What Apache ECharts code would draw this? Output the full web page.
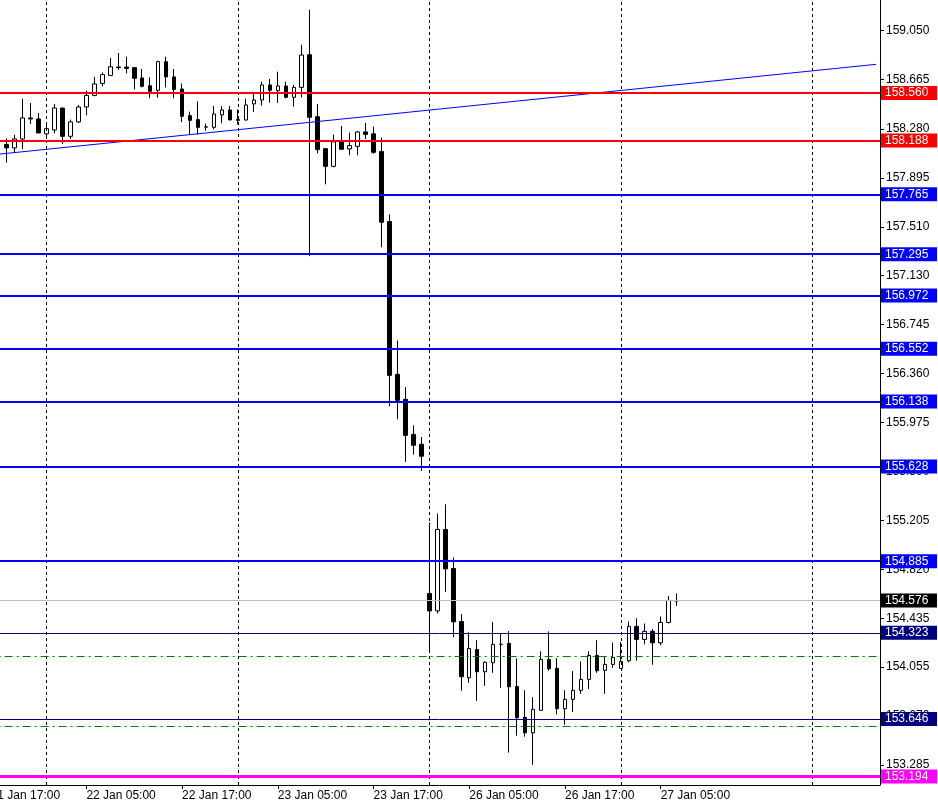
<!DOCTYPE html>
<html>
<head>
<meta charset="utf-8">
<title>H1 chart</title>
<script src="https://cdn.jsdelivr.net/npm/echarts@6/dist/echarts.min.js"></script>
<style>
html, body { margin: 0; padding: 0; background: #fff; }
#chart { width: 938px; height: 807px; }
</style>
</head>
<body>
<div id="chart"></div>
<script>
// time axis: hourly bars, first category is 21 Jan 17:00 (off the left edge)
var days = ['21 Jan', '22 Jan', '23 Jan', '26 Jan', '27 Jan', '28 Jan'];
var firstCandle = '21 Jan 19:00';

// OHLC, one value per hourly bar
var opens = [158.156, 158.130, 158.200, 158.365, 158.357, 158.240, 158.271, 158.443, 158.221, 158.334,
  158.451, 158.542, 158.636, 158.699, 158.765, 158.765, 158.760, 158.679, 158.618, 158.582,
  158.807, 158.687, 158.592, 158.383, 158.352, 158.293, 158.291, 158.389, 158.428, 158.352,
  158.349, 158.475, 158.506, 158.624, 158.579, 158.616, 158.527, 158.605, 158.861, 158.375,
  158.124, 157.985, 158.177, 158.122, 158.142, 158.255, 158.240, 158.101, 157.552, 156.352,
  156.156, 155.881, 155.803, 154.632, 154.495, 155.134, 154.828, 154.412, 153.970, 154.192,
  154.017, 154.088, 154.230, 154.240, 153.902, 153.659, 153.538, 153.714, 154.114, 154.044,
  153.727, 153.800, 153.871, 153.957, 154.145, 154.028, 154.075, 154.043, 154.103, 154.373,
  154.271, 154.334, 154.244, 154.404, 154.574];
var closes = [158.130, 158.200, 158.365, 158.357, 158.247, 158.281, 158.443, 158.221, 158.334, 158.451,
  158.542, 158.632, 158.705, 158.767, 158.760, 158.754, 158.676, 158.613, 158.574, 158.807,
  158.687, 158.589, 158.378, 158.346, 158.291, 158.295, 158.396, 158.428, 158.349, 158.346,
  158.467, 158.506, 158.624, 158.582, 158.616, 158.527, 158.605, 158.859, 158.370, 158.116,
  157.985, 158.177, 158.119, 158.148, 158.255, 158.236, 158.095, 157.546, 156.344, 156.148,
  155.873, 155.795, 155.709, 154.495, 155.134, 154.825, 154.409, 153.978, 154.200, 154.017,
  154.091, 154.232, 154.233, 153.899, 153.656, 153.538, 153.722, 154.114, 154.040, 153.727,
  153.800, 153.871, 153.957, 154.145, 154.025, 154.075, 154.130, 154.098, 154.373, 154.271,
  154.334, 154.244, 154.404, 154.577, 154.576];
var lows = [158.015, 158.095, 158.119, 158.318, 158.247, 158.200, 158.244, 158.161, 158.200, 158.326,
  158.385, 158.535, 158.613, 158.694, 158.742, 158.715, 158.589, 158.605, 158.519, 158.524,
  158.605, 158.519, 158.334, 158.232, 158.232, 158.265, 158.276, 158.323, 158.349, 158.313,
  158.344, 158.412, 158.462, 158.485, 158.483, 158.519, 158.454, 158.527, 157.280, 158.087,
  157.844, 157.978, 158.119, 158.072, 158.072, 158.200, 158.083, 157.350, 156.101, 155.999,
  155.664, 155.722, 155.593, 154.169, 154.475, 154.644, 154.287, 153.868, 153.931, 153.789,
  153.907, 154.009, 153.891, 153.382, 153.515, 153.507, 153.287, 153.714, 154.025, 153.683,
  153.601, 153.701, 153.844, 153.881, 154.009, 153.844, 154.048, 154.043, 154.091, 154.103,
  154.232, 154.072, 154.224, 154.396, 154.534];
var highs = [158.203, 158.232, 158.517, 158.483, 158.404, 158.318, 158.475, 158.443, 158.352, 158.467,
  158.579, 158.689, 158.723, 158.836, 158.875, 158.846, 158.765, 158.749, 158.684, 158.814,
  158.846, 158.749, 158.636, 158.414, 158.495, 158.320, 158.459, 158.459, 158.459, 158.432,
  158.517, 158.569, 158.650, 158.671, 158.728, 158.650, 158.624, 158.940, 159.214, 158.475,
  158.124, 158.234, 158.302, 158.250, 158.263, 158.326, 158.297, 158.211, 157.607, 156.618,
  156.252, 155.952, 155.860, 155.189, 155.259, 155.332, 154.914, 154.469, 154.328, 154.265,
  154.098, 154.407, 154.318, 154.336, 154.122, 153.873, 153.818, 154.177, 154.334, 154.124,
  153.873, 154.022, 154.098, 154.177, 154.265, 154.142, 154.247, 154.250, 154.412, 154.438,
  154.396, 154.352, 154.451, 154.611, 154.632];

// price scale ticks as printed on the right
var yTicks = [153.285, 153.670, 154.055, 154.435, 154.820, 155.205, 155.590, 155.975,
  156.360, 156.745, 157.130, 157.510, 157.895, 158.280, 158.665, 159.050];

// drawn levels
var redLevels = [158.560, 158.188];
var blueLevels = [157.765, 157.295, 156.972, 156.552, 156.138, 155.628, 154.885];
var bidLevel = 154.576;
var navyLevels = [154.323, 153.646];
var magentaLevel = 153.194;
var greenLevels = [154.141, 153.591];
var dayBreaks = ['22 Jan 00:00', '23 Jan 00:00', '26 Jan 00:00', '27 Jan 00:00', '28 Jan 00:00'];
var trendFrom = ['21 Jan 17:00', 158.074];
var trendTo = ['28 Jan 08:00', 158.786];
var lastLabel = '27 Jan 05:00';

var FONT = 'Liberation Sans, Arial, sans-serif';

var categories = [];
days.forEach(function (d, i) {
  var from = i === 0 ? 17 : 0;
  var to = i === days.length - 1 ? 8 : 23;
  for (var h = from; h <= to; h++) {
    categories.push(d + ' ' + (h < 10 ? '0' : '') + h + ':00');
  }
});

var offset = categories.indexOf(firstCandle);
var candles = categories.map(function (c, i) {
  var k = i - offset;
  if (k < 0 || k >= opens.length) return '-';
  return [opens[k], closes[k], lows[k], highs[k]];
});

function priceLabel(bg) {
  return {
    show: true,
    position: 'end',
    distance: 1,
    formatter: function (p) { return Number(p.value).toFixed(3); },
    color: '#fff',
    backgroundColor: bg,
    fontFamily: FONT,
    fontSize: 12,
    lineHeight: 13,
    width: 48,
    padding: [1, 4, 0, 4]
  };
}

function level(value, color, width, labelBg) {
  return {
    yAxis: value,
    lineStyle: { color: color, width: width, type: 'solid' },
    label: labelBg ? priceLabel(labelBg) : { show: false }
  };
}

var lines = [];
dayBreaks.forEach(function (c) {
  lines.push({ xAxis: c, lineStyle: { color: '#000', width: 1, type: [3, 3] }, label: { show: false } });
});
greenLevels.forEach(function (v) {
  lines.push({ yAxis: v, lineStyle: { color: '#008000', width: 1, type: [8, 4, 2, 4] }, label: { show: false } });
});
lines.push([
  { coord: trendFrom, lineStyle: { color: '#0000ff', width: 1, type: 'solid' }, label: { show: false } },
  { coord: trendTo }
]);
lines.push(level(bidLevel, '#c0c0c0', 1, '#000'));
navyLevels.forEach(function (v) { lines.push(level(v, '#000080', 1, '#000080')); });
blueLevels.forEach(function (v) { lines.push(level(v, '#0000ff', 2, '#0000ff')); });
redLevels.forEach(function (v) { lines.push(level(v, '#ff0000', 2, '#ff0000')); });
lines.push(level(magentaLevel, '#ff00ff', 3, '#ff00ff'));

var lastLabelIndex = categories.indexOf(lastLabel);
function isTimeLabel(i, v) { return i <= lastLabelIndex && /(05|17):00$/.test(v); }

var myChart = echarts.init(document.getElementById('chart'));
myChart.setOption({
  animation: false,
  backgroundColor: '#fff',
  grid: { left: -13.3, right: 58, top: 0, bottom: 22, containLabel: false, outerBoundsMode: 'none' },
  xAxis: {
    type: 'category',
    data: categories,
    boundaryGap: true,
    axisLine: { show: true, lineStyle: { color: '#000', width: 1 } },
    axisTick: { show: true, alignWithLabel: true, length: 4, interval: isTimeLabel, lineStyle: { color: '#000' } },
    axisLabel: { interval: isTimeLabel, align: 'left', color: '#000', fontFamily: FONT, fontSize: 12, margin: 5 },
    splitLine: { show: false }
  },
  yAxis: {
    type: 'value',
    position: 'right',
    min: 153.128,
    max: 159.291,
    axisLine: { show: true, lineStyle: { color: '#000', width: 1 } },
    axisTick: { show: true, length: 4, customValues: yTicks, lineStyle: { color: '#000' } },
    axisLabel: {
      customValues: yTicks,
      color: '#000',
      fontFamily: FONT,
      fontSize: 12,
      margin: 6,
      formatter: function (v) { return v.toFixed(3); }
    },
    splitLine: { show: false }
  },
  series: [
    {
      type: 'candlestick',
      data: candles,
      barWidth: 4,
      itemStyle: {
        color: '#fff',
        color0: '#000',
        borderColor: '#000',
        borderColor0: '#000',
        borderWidth: 1
      },
      markLine: {
        silent: true,
        animation: false,
        precision: 3,
        symbol: ['none', 'none'],
        data: lines
      }
    }
  ]
});
</script>
</body>
</html>
